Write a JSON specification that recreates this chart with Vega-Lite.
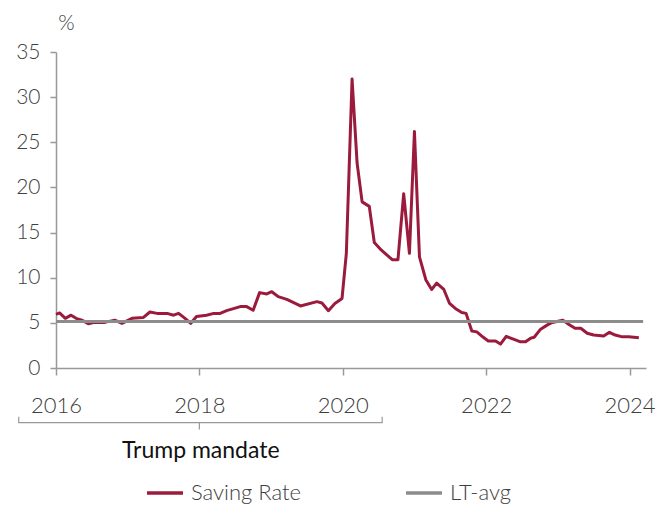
{
  "$schema": "https://vega.github.io/schema/vega-lite/v6.json",
  "width": 590,
  "height": 316,
  "autosize": {"type": "none"},
  "padding": {"left": 56, "top": 52, "right": 26, "bottom": 140},
  "background": "white",
  "config": {
    "view": {"stroke": null},
    "font": "Lato",
    "axis": {"labelFont": "Lato", "labelFontWeight": 300, "labelColor": "#404040", "domainColor": "#999999", "tickColor": "#999999", "grid": false, "domainWidth": 1.5, "tickWidth": 1.5}
  },
  "datasets": {
    "series": [
      {"series": "Saving Rate", "t": 2016.00, "v": 5.95},
      {"series": "Saving Rate", "t": 2016.05, "v": 6.1},
      {"series": "Saving Rate", "t": 2016.13, "v": 5.5},
      {"series": "Saving Rate", "t": 2016.21, "v": 5.85},
      {"series": "Saving Rate", "t": 2016.28, "v": 5.5},
      {"series": "Saving Rate", "t": 2016.36, "v": 5.3},
      {"series": "Saving Rate", "t": 2016.45, "v": 4.9},
      {"series": "Saving Rate", "t": 2016.54, "v": 5.05},
      {"series": "Saving Rate", "t": 2016.68, "v": 5.05},
      {"series": "Saving Rate", "t": 2016.82, "v": 5.3},
      {"series": "Saving Rate", "t": 2016.92, "v": 4.95},
      {"series": "Saving Rate", "t": 2017.06, "v": 5.5},
      {"series": "Saving Rate", "t": 2017.22, "v": 5.6},
      {"series": "Saving Rate", "t": 2017.31, "v": 6.2},
      {"series": "Saving Rate", "t": 2017.41, "v": 6.05},
      {"series": "Saving Rate", "t": 2017.55, "v": 6.05},
      {"series": "Saving Rate", "t": 2017.64, "v": 5.85},
      {"series": "Saving Rate", "t": 2017.71, "v": 6.05},
      {"series": "Saving Rate", "t": 2017.80, "v": 5.5},
      {"series": "Saving Rate", "t": 2017.88, "v": 4.95},
      {"series": "Saving Rate", "t": 2017.96, "v": 5.7},
      {"series": "Saving Rate", "t": 2018.10, "v": 5.85},
      {"series": "Saving Rate", "t": 2018.20, "v": 6.05},
      {"series": "Saving Rate", "t": 2018.29, "v": 6.05},
      {"series": "Saving Rate", "t": 2018.38, "v": 6.35},
      {"series": "Saving Rate", "t": 2018.57, "v": 6.8},
      {"series": "Saving Rate", "t": 2018.66, "v": 6.8},
      {"series": "Saving Rate", "t": 2018.75, "v": 6.4},
      {"series": "Saving Rate", "t": 2018.84, "v": 8.35},
      {"series": "Saving Rate", "t": 2018.94, "v": 8.2},
      {"series": "Saving Rate", "t": 2019.01, "v": 8.45},
      {"series": "Saving Rate", "t": 2019.10, "v": 7.9},
      {"series": "Saving Rate", "t": 2019.22, "v": 7.6},
      {"series": "Saving Rate", "t": 2019.41, "v": 6.87},
      {"series": "Saving Rate", "t": 2019.64, "v": 7.35},
      {"series": "Saving Rate", "t": 2019.71, "v": 7.2},
      {"series": "Saving Rate", "t": 2019.80, "v": 6.35},
      {"series": "Saving Rate", "t": 2019.89, "v": 7.15},
      {"series": "Saving Rate", "t": 2019.99, "v": 7.7},
      {"series": "Saving Rate", "t": 2020.05, "v": 12.7},
      {"series": "Saving Rate", "t": 2020.13, "v": 32.0},
      {"series": "Saving Rate", "t": 2020.20, "v": 22.7},
      {"series": "Saving Rate", "t": 2020.27, "v": 18.4},
      {"series": "Saving Rate", "t": 2020.37, "v": 17.9},
      {"series": "Saving Rate", "t": 2020.44, "v": 13.9},
      {"series": "Saving Rate", "t": 2020.52, "v": 13.2},
      {"series": "Saving Rate", "t": 2020.59, "v": 12.7},
      {"series": "Saving Rate", "t": 2020.69, "v": 12.0},
      {"series": "Saving Rate", "t": 2020.77, "v": 12.0},
      {"series": "Saving Rate", "t": 2020.85, "v": 19.3},
      {"series": "Saving Rate", "t": 2020.93, "v": 12.7},
      {"series": "Saving Rate", "t": 2021.00, "v": 26.2},
      {"series": "Saving Rate", "t": 2021.07, "v": 12.3},
      {"series": "Saving Rate", "t": 2021.16, "v": 9.75},
      {"series": "Saving Rate", "t": 2021.24, "v": 8.7},
      {"series": "Saving Rate", "t": 2021.31, "v": 9.4},
      {"series": "Saving Rate", "t": 2021.41, "v": 8.7},
      {"series": "Saving Rate", "t": 2021.49, "v": 7.15},
      {"series": "Saving Rate", "t": 2021.57, "v": 6.6},
      {"series": "Saving Rate", "t": 2021.66, "v": 6.15},
      {"series": "Saving Rate", "t": 2021.72, "v": 6.05},
      {"series": "Saving Rate", "t": 2021.80, "v": 4.1},
      {"series": "Saving Rate", "t": 2021.87, "v": 4.0},
      {"series": "Saving Rate", "t": 2021.96, "v": 3.4},
      {"series": "Saving Rate", "t": 2022.03, "v": 3.0},
      {"series": "Saving Rate", "t": 2022.13, "v": 3.0},
      {"series": "Saving Rate", "t": 2022.20, "v": 2.65},
      {"series": "Saving Rate", "t": 2022.28, "v": 3.5},
      {"series": "Saving Rate", "t": 2022.38, "v": 3.2},
      {"series": "Saving Rate", "t": 2022.48, "v": 2.9},
      {"series": "Saving Rate", "t": 2022.55, "v": 2.9},
      {"series": "Saving Rate", "t": 2022.62, "v": 3.3},
      {"series": "Saving Rate", "t": 2022.67, "v": 3.4},
      {"series": "Saving Rate", "t": 2022.76, "v": 4.3},
      {"series": "Saving Rate", "t": 2022.85, "v": 4.75},
      {"series": "Saving Rate", "t": 2022.92, "v": 5.05},
      {"series": "Saving Rate", "t": 2022.99, "v": 5.15},
      {"series": "Saving Rate", "t": 2023.07, "v": 5.3},
      {"series": "Saving Rate", "t": 2023.15, "v": 4.85},
      {"series": "Saving Rate", "t": 2023.24, "v": 4.4},
      {"series": "Saving Rate", "t": 2023.32, "v": 4.4},
      {"series": "Saving Rate", "t": 2023.41, "v": 3.85},
      {"series": "Saving Rate", "t": 2023.50, "v": 3.65},
      {"series": "Saving Rate", "t": 2023.64, "v": 3.55},
      {"series": "Saving Rate", "t": 2023.72, "v": 3.95},
      {"series": "Saving Rate", "t": 2023.80, "v": 3.65},
      {"series": "Saving Rate", "t": 2023.90, "v": 3.45},
      {"series": "Saving Rate", "t": 2023.99, "v": 3.45},
      {"series": "Saving Rate", "t": 2024.13, "v": 3.35},
      {"series": "LT-avg", "t": 2016.00, "v": 5.15},
      {"series": "LT-avg", "t": 2024.19, "v": 5.15}
    ],
    "bracket": [
      {"part": "span", "o": 1, "t": 2015.48, "v": -5.4},
      {"part": "span", "o": 2, "t": 2015.48, "v": -6.06},
      {"part": "span", "o": 3, "t": 2020.55, "v": -6.06},
      {"part": "span", "o": 4, "t": 2020.55, "v": -5.4},
      {"part": "mid", "o": 1, "t": 2018.0, "v": -6.06},
      {"part": "mid", "o": 2, "t": 2018.0, "v": -6.8}
    ],
    "labels": [
      {"t": 2018.02, "v": -10.0, "label": "Trump mandate"}
    ]
  },
  "layer": [
    {
      "data": {"name": "series"},
      "mark": {"type": "line", "strokeWidth": 3, "clip": false, "strokeJoin": "round"},
      "encoding": {
        "x": {
          "field": "t", "type": "quantitative",
          "scale": {"domain": [2016, 2024.23], "nice": false, "zero": false},
          "axis": {"values": [2016, 2018, 2020, 2022, 2024], "format": "d", "title": null, "tickSize": 7, "labelFontSize": 22, "labelPadding": 20, "labelOverlap": false, "labelFlush": false}
        },
        "y": {
          "field": "v", "type": "quantitative",
          "scale": {"domain": [0, 35], "nice": false},
          "axis": {"values": [0, 5, 10, 15, 20, 25, 30, 35], "tickSize": 6, "labelFontSize": 21, "labelPadding": 10, "title": "%", "titleAngle": 0, "titleFont": "Lato", "titleFontWeight": 300, "titleFontSize": 21, "titleColor": "#404040", "titleAlign": "center", "titleBaseline": "alphabetic", "titleX": 10, "titleY": -23}
        },
        "color": {
          "field": "series", "type": "nominal",
          "scale": {"domain": ["Saving Rate", "LT-avg"], "range": ["#9b1b3d", "#8c8c8c"]},
          "legend": {"title": null, "orient": "none", "direction": "horizontal", "legendX": 89, "legendY": 421, "symbolType": "stroke", "symbolSize": 1296, "symbolStrokeWidth": 3.5, "labelFontSize": 22, "labelFont": "Lato", "labelFontWeight": 300, "labelColor": "#404040", "labelOffset": 6, "columnPadding": 97}
        },
        "strokeWidth": {"condition": {"test": "datum.series === 'LT-avg'", "value": 3.5}, "value": 3}
      }
    },
    {
      "data": {"name": "bracket"},
      "mark": {"type": "line", "color": "#999999", "strokeWidth": 1.2, "clip": false},
      "encoding": {
        "x": {"field": "t", "type": "quantitative"},
        "y": {"field": "v", "type": "quantitative"},
        "detail": {"field": "part"},
        "order": {"field": "o"}
      }
    },
    {
      "data": {"name": "labels"},
      "mark": {"type": "text", "font": "Lato", "fontSize": 23, "fontWeight": 400, "color": "#111111", "align": "center", "baseline": "alphabetic", "clip": false},
      "encoding": {
        "x": {"field": "t", "type": "quantitative"},
        "y": {"field": "v", "type": "quantitative"},
        "text": {"field": "label"}
      }
    }
  ]
}
